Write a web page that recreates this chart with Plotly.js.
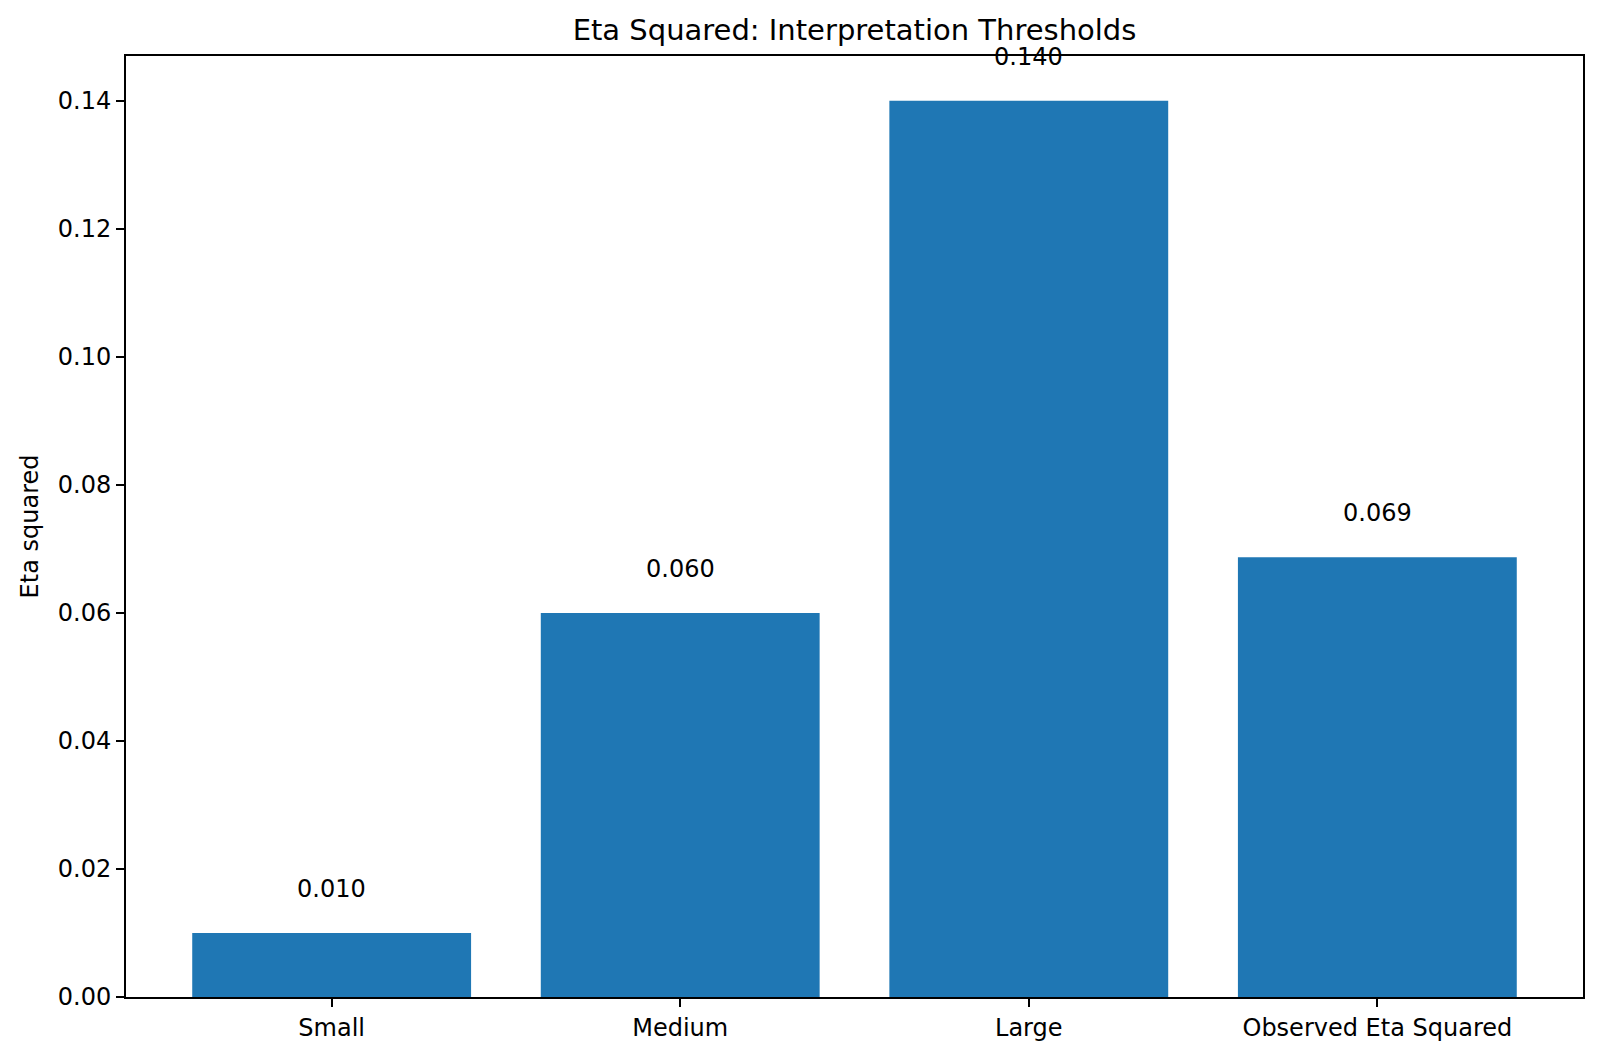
<!DOCTYPE html>
<html>
<head>
<meta charset="utf-8">
<script src="https://cdn.plot.ly/plotly-3.0.1.min.js"></script>
<style>html,body{margin:0;padding:0;background:#fff;}#chart{width:1600px;height:1058px;}</style>
</head>
<body>
<div id="chart"></div>
<script>
const categories = ["Small", "Medium", "Large", "Observed Eta Squared"];
const etaValues = [0.010, 0.060, 0.140, 0.0687];
const yTickValues = [0.00, 0.02, 0.04, 0.06, 0.08, 0.10, 0.12, 0.14];

const font = "DejaVu Sans, sans-serif";

const trace = {
  type: "bar",
  x: categories,
  y: etaValues,
  width: 0.8,
  marker: {color: "#1f77b4", line: {width: 0}},
  hoverinfo: "x+y"
};

const annotations = categories.map((c, i) => ({
  x: c, y: etaValues[i], xref: "x", yref: "y",
  text: etaValues[i].toFixed(3),
  showarrow: false, yanchor: "middle", xanchor: "center",
  yshift: 44,
  font: {family: font, size: 24, color: "#000"}
}));

const layout = {
  width: 1600, height: 1058,
  margin: {l: 126, r: 17, t: 56, b: 61, pad: 0},
  paper_bgcolor: "#fff", plot_bgcolor: "#fff",
  showlegend: false,
  title: {text: "Eta Squared: Interpretation Thresholds", x: 0.5, xanchor: "center", xref: "paper",
          y: 1 - 30 / 1058, yanchor: "middle", yref: "container",
          font: {family: font, size: 29, color: "#000"}},
  xaxis: {
    type: "category", range: [-0.59, 3.59],
    showgrid: false, zeroline: false,
    showline: true, linecolor: "#000", linewidth: 2, mirror: true,
    ticks: "outside", ticklen: 8, tickwidth: 1.8, tickcolor: "#000",
    tickfont: {family: font, size: 24, color: "#000"},
    fixedrange: true
  },
  yaxis: {
    range: [0, 0.147],
    tickvals: yTickValues, tickformat: ".2f",
    showgrid: false, zeroline: false,
    showline: true, linecolor: "#000", linewidth: 2, mirror: true,
    ticks: "outside", ticklen: 8, tickwidth: 1.8, tickcolor: "#000",
    tickfont: {family: font, size: 24, color: "#000"},
    title: {text: "Eta squared", font: {family: font, size: 24, color: "#000"}, standoff: 12},
    fixedrange: true
  },
  annotations: annotations,
  bargap: 0.2
};

Plotly.newPlot("chart", [trace], layout, {displayModeBar: false, staticPlot: true});
</script>
</body>
</html>
